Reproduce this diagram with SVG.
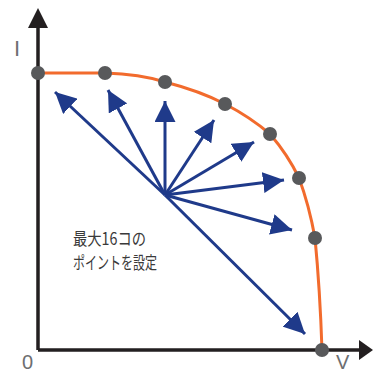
<svg xmlns="http://www.w3.org/2000/svg" width="373" height="374" viewBox="0 0 373 374">
<defs>
<style>
.axis{stroke:#231f20;stroke-width:3.5;fill:none}
.curve{stroke:#f26b2d;stroke-width:3;fill:none;stroke-linejoin:round}
.vec{stroke:#1f3a8a;stroke-width:3;fill:none}
.pt{fill:#58595b}
.lbl{font-family:"Liberation Sans",Arial,sans-serif;font-size:22px;fill:#6d6e71}
.note{font-family:"Noto Sans CJK JP","Noto Sans",sans-serif;font-size:17.5px;fill:#3a3a3a}
</style>
<marker id="ah" viewBox="0 0 10 10" refX="10" refY="5" markerWidth="7" markerHeight="7" markerUnits="strokeWidth" orient="auto">
<path d="M0,0 L10,5 L0,10 z" fill="#1f3a8a"/>
</marker>
</defs>
<g id="axes">
<path class="axis" d="M38,350 V24 M38,350 H362"/>
<path d="M28,28 L38,8 L48,28 z" fill="#231f20"/>
<path d="M359,340 L373,350 L359,360 z" fill="#231f20"/>
<text class="lbl" x="14" y="56">I</text>
<text class="lbl" x="22" y="369" style="font-size:20px">0</text>
<text class="lbl" x="336" y="369" style="font-size:20px">V</text>
</g>
<g id="connectors">
<path class="curve" d="M38,73 L105,73 Q140,74 165,82 Q200,91 225,104 Q250,117 270,134 Q288,155 299,178 Q309,205 315,238 Q320,290 322,350"/>
<line class="vec" x1="165" y1="195" x2="55" y2="92" marker-end="url(#ah)"/>
<line class="vec" x1="165" y1="195" x2="108" y2="90" marker-end="url(#ah)"/>
<line class="vec" x1="165" y1="195" x2="165" y2="101" marker-end="url(#ah)"/>
<line class="vec" x1="165" y1="195" x2="214" y2="120" marker-end="url(#ah)"/>
<line class="vec" x1="165" y1="195" x2="254" y2="142" marker-end="url(#ah)"/>
<line class="vec" x1="165" y1="195" x2="284" y2="180" marker-end="url(#ah)"/>
<line class="vec" x1="165" y1="195" x2="292" y2="230" marker-end="url(#ah)"/>
<line class="vec" x1="165" y1="195" x2="305" y2="334" marker-end="url(#ah)"/>
</g>
<g id="points">
<circle class="pt" cx="38" cy="73" r="7"/>
<circle class="pt" cx="105" cy="73" r="7"/>
<circle class="pt" cx="165" cy="82" r="7"/>
<circle class="pt" cx="225" cy="104" r="7"/>
<circle class="pt" cx="270" cy="134" r="7"/>
<circle class="pt" cx="299" cy="178" r="7"/>
<circle class="pt" cx="315" cy="238" r="7"/>
<circle class="pt" cx="322" cy="350" r="7"/>
</g>
<g id="label">
<text class="note" x="73" y="245" textLength="73" lengthAdjust="spacingAndGlyphs">最大16コの</text>
<text class="note" x="73" y="269" textLength="84" lengthAdjust="spacingAndGlyphs">ポイントを設定</text>
</g>
</svg>
